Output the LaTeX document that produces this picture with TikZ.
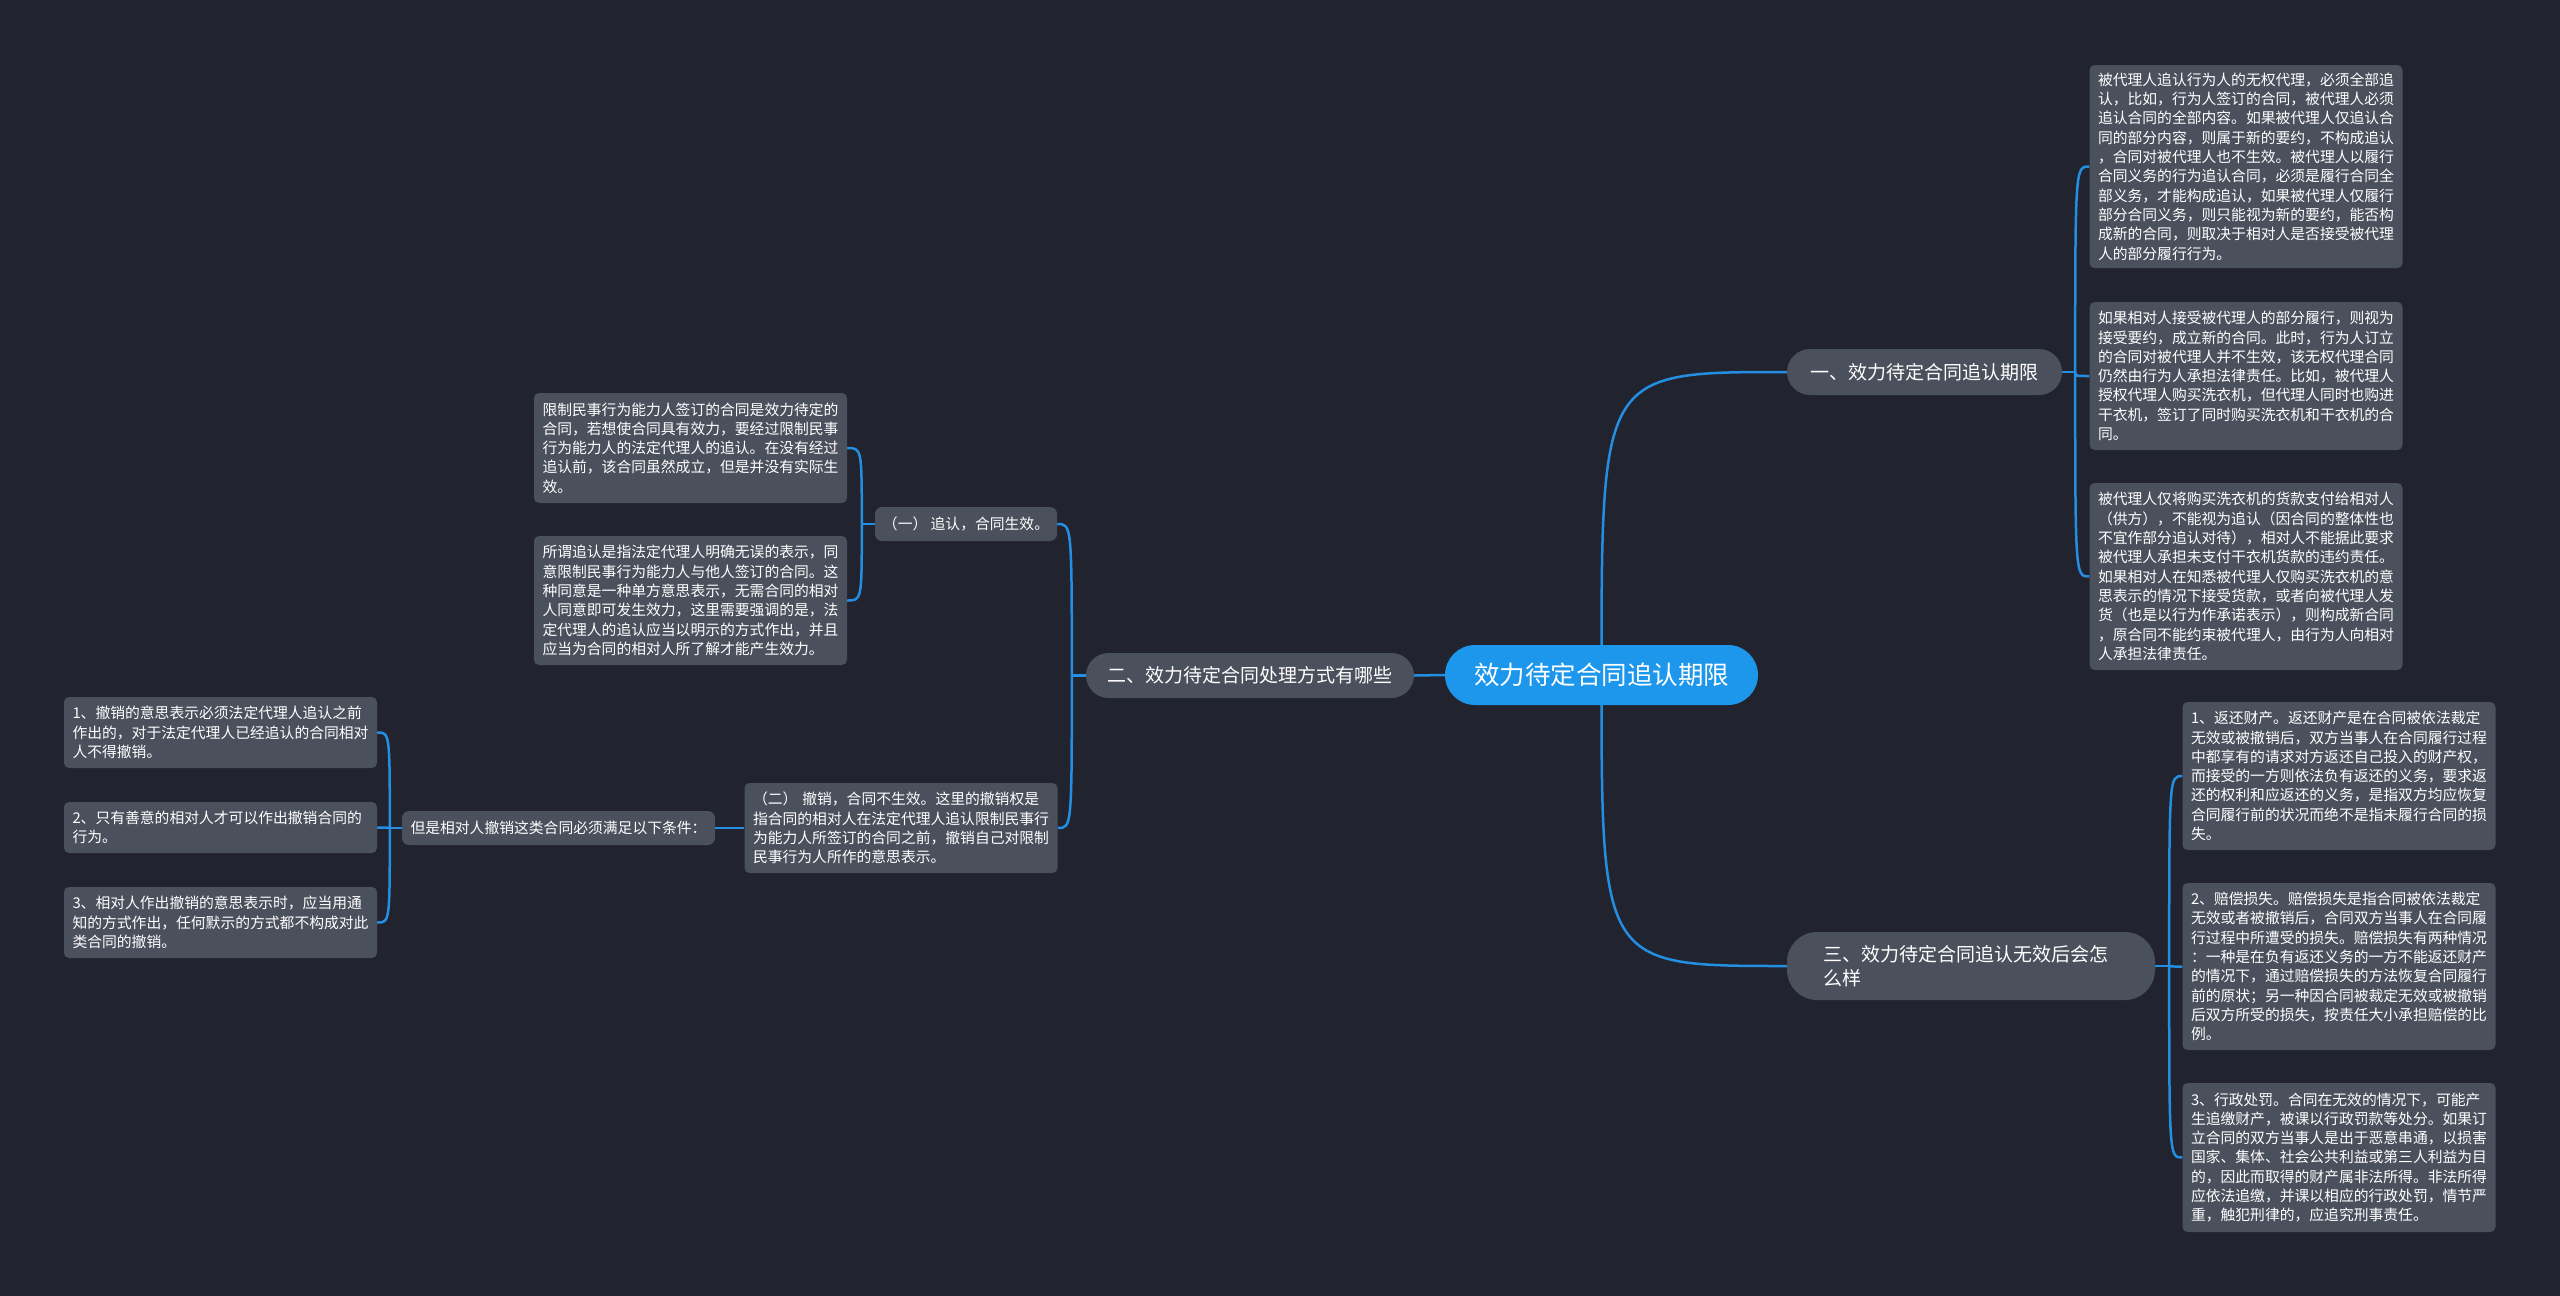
\documentclass[tikz,border=0pt]{standalone}
\usepackage{fontspec}
\setmainfont{Noto Sans CJK SC}
\newfontfamily\cjkfam{Noto Sans CJK SC}
\definecolor{bgcol}{HTML}{21242E}
\definecolor{nodegray}{HTML}{4B505D}
\definecolor{rootblue}{HTML}{1C97EC}
\definecolor{linkblue}{HTML}{248EE2}
\newcommand\bxfont{\cjkfam\fontsize{14.8pt}{19.3pt}\selectfont}
\newcommand\brfont{\cjkfam\fontsize{19pt}{24pt}\selectfont}
\newcommand\rtfont{\cjkfam\fontsize{25.5pt}{30pt}\selectfont}
\pgfdeclarelayer{bg}
\pgfdeclarelayer{links}
\pgfsetlayers{bg,links,main}
\tikzset{
  box/.style={fill=nodegray, rounded corners=5pt, text=white, font=\bxfont,
    align=left, text width=296pt, inner xsep=8.5pt, inner ysep=0pt},
  smallpill/.style={fill=nodegray, rounded corners=7pt, text=white, font=\bxfont, inner sep=0pt},
  pill/.style={fill=nodegray, text=white, font=\brfont, inner sep=0pt},
  rootn/.style={fill=rootblue, text=white, font=\rtfont, inner sep=0pt,
    minimum width=313pt, minimum height=60pt, rounded corners=30pt},
  conn/.style={draw=linkblue, line width=2.5pt},
}
\begin{document}
\begin{tikzpicture}[x=1pt,y=-1pt]
\begin{pgfonlayer}{bg}
\fill[bgcol] (0,0) rectangle (2560,1296);
\end{pgfonlayer}
\useasboundingbox (0,0) rectangle (2560,1296);

% root and branches
\node[rootn] (root) at (1601.5,675) {效力待定合同追认期限};
\node[pill, minimum width=275pt, minimum height=46pt, rounded corners=23pt] (b1) at (1924.5,372) {一、效力待定合同追认期限};
\node[pill, minimum width=328pt, minimum height=45pt, rounded corners=22.5pt] (b2) at (1250,675.5) {二、效力待定合同处理方式有哪些};
\node[pill, text width=296pt, align=left, inner xsep=36pt, minimum height=68pt, rounded corners=30pt] (b3) at (1971,966) {三、效力待定合同追认无效后会怎\\么样};

% branch 1 children
\node[box, minimum height=203pt] (ra) at (2246,166.5) {被代理人追认行为人的无权代理，必须全部追\\认，比如，行为人签订的合同，被代理人必须\\追认合同的全部内容。如果被代理人仅追认合\\同的部分内容，则属于新的要约，不构成追认\\，合同对被代理人也不生效。被代理人以履行\\合同义务的行为追认合同，必须是履行合同全\\部义务，才能构成追认，如果被代理人仅履行\\部分合同义务，则只能视为新的要约，能否构\\成新的合同，则取决于相对人是否接受被代理\\人的部分履行行为。};
\node[box, minimum height=148pt] (rb) at (2246,376) {如果相对人接受被代理人的部分履行，则视为\\接受要约，成立新的合同。此时，行为人订立\\的合同对被代理人并不生效，该无权代理合同\\仍然由行为人承担法律责任。比如，被代理人\\授权代理人购买洗衣机，但代理人同时也购进\\干衣机，签订了同时购买洗衣机和干衣机的合\\同。};
\node[box, minimum height=187pt] (rc) at (2246,576.5) {被代理人仅将购买洗衣机的货款支付给相对人\\（供方），不能视为追认（因合同的整体性也\\不宜作部分追认对待），相对人不能据此要求\\被代理人承担未支付干衣机货款的违约责任。\\如果相对人在知悉被代理人仅购买洗衣机的意\\思表示的情况下接受货款，或者向被代理人发\\货（也是以行为作承诺表示），则构成新合同\\，原合同不能约束被代理人，由行为人向相对\\人承担法律责任。};

% branch 3 children
\node[box, minimum height=148pt] (s1) at (2339,776) {1、返还财产。返还财产是在合同被依法裁定\\无效或被撤销后，双方当事人在合同履行过程\\中都享有的请求对方返还自己投入的财产权，\\而接受的一方则依法负有返还的义务，要求返\\还的权利和应返还的义务，是指双方均应恢复\\合同履行前的状况而绝不是指未履行合同的损\\失。};
\node[box, minimum height=167pt] (s2) at (2339,966.5) {2、赔偿损失。赔偿损失是指合同被依法裁定\\无效或者被撤销后，合同双方当事人在合同履\\行过程中所遭受的损失。赔偿损失有两种情况\\：一种是在负有返还义务的一方不能返还财产\\的情况下，通过赔偿损失的方法恢复合同履行\\前的原状；另一种因合同被裁定无效或被撤销\\后双方所受的损失，按责任大小承担赔偿的比\\例。};
\node[box, minimum height=149pt] (s3) at (2339,1157.5) {3、行政处罚。合同在无效的情况下，可能产\\生追缴财产，被课以行政罚款等处分。如果订\\立合同的双方当事人是出于恶意串通，以损害\\国家、集体、社会公共利益或第三人利益为目\\的，因此而取得的财产属非法所得。非法所得\\应依法追缴，并课以相应的行政处罚，情节严\\重，触犯刑律的，应追究刑事责任。};

% branch 2 children
\node[smallpill, minimum width=182pt, minimum height=34pt] (c1) at (966,524) {（一） 追认，合同生效。};
\node[box, minimum height=90pt] (c2) at (901,828) {（二） 撤销，合同不生效。这里的撤销权是\\指合同的相对人在法定代理人追认限制民事行\\为能力人所签订的合同之前，撤销自己对限制\\民事行为人所作的意思表示。};
\node[box, minimum height=110pt] (m1) at (690.5,448) {限制民事行为能力人签订的合同是效力待定的\\合同，若想使合同具有效力，要经过限制民事\\行为能力人的法定代理人的追认。在没有经过\\追认前，该合同虽然成立，但是并没有实际生\\效。};
\node[box, minimum height=129pt] (m2) at (690.5,600.5) {所谓追认是指法定代理人明确无误的表示，同\\意限制民事行为能力人与他人签订的合同。这\\种同意是一种单方意思表示，无需合同的相对\\人同意即可发生效力，这里需要强调的是，法\\定代理人的追认应当以明示的方式作出，并且\\应当为合同的相对人所了解才能产生效力。};
\node[smallpill, minimum width=313pt, minimum height=34pt] (cond) at (558.5,828) {但是相对人撤销这类合同必须满足以下条件：};
\node[box, minimum height=71pt] (f1) at (220.5,732.5) {1、撤销的意思表示必须法定代理人追认之前\\作出的，对于法定代理人已经追认的合同相对\\人不得撤销。};
\node[box, minimum height=51pt] (f2) at (220.5,827.5) {2、只有善意的相对人才可以作出撤销合同的\\行为。};
\node[box, minimum height=71pt] (f3) at (220.5,922.5) {3、相对人作出撤销的意思表示时，应当用通\\知的方式作出，任何默示的方式都不构成对此\\类合同的撤销。};

% connectors
\begin{pgfonlayer}{links}
\draw[conn] (root.center) .. controls (root.center |- b1.west) and (root.center |- b1.west) .. (b1.west);
\draw[conn] (root.center) .. controls (root.center |- b3.west) and (root.center |- b3.west) .. (b3.west);
\draw[conn] (root.west) -- (b2.east);

\coordinate (b1s) at ([xshift=13pt]b1.east);
\draw[conn] (b1.east) -- (b1s);
\foreach \c in {ra,rb,rc}
  \draw[conn] (b1s) .. controls (b1s |- \c.west) and (b1s |- \c.west) .. (\c.west);

\coordinate (b3s) at ([xshift=14pt]b3.east);
\draw[conn] (b3.east) -- (b3s);
\foreach \c in {s1,s2,s3}
  \draw[conn] (b3s) .. controls (b3s |- \c.west) and (b3s |- \c.west) .. (\c.west);

\coordinate (b2s) at ([xshift=-14pt]b2.west);
\draw[conn] (b2.west) -- (b2s);
\foreach \c in {c1,c2}
  \draw[conn] (b2s) .. controls (b2s |- \c.east) and (b2s |- \c.east) .. (\c.east);

\coordinate (c1s) at ([xshift=-13pt]c1.west);
\draw[conn] (c1.west) -- (c1s);
\foreach \c in {m1,m2}
  \draw[conn] (c1s) .. controls (c1s |- \c.east) and (c1s |- \c.east) .. (\c.east);

\draw[conn] (c2.west) -- (cond.east);

\coordinate (cs) at ([xshift=-12pt]cond.west);
\draw[conn] (cond.west) -- (cs);
\foreach \c in {f1,f2,f3}
  \draw[conn] (cs) .. controls (cs |- \c.east) and (cs |- \c.east) .. (\c.east);
\end{pgfonlayer}
\end{tikzpicture}
\end{document}
